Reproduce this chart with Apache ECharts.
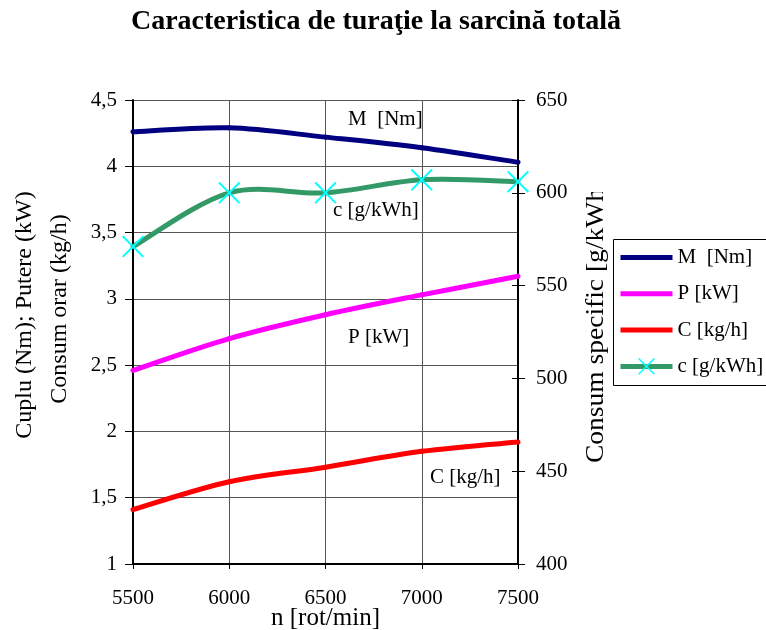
<!DOCTYPE html>
<html>
<head>
<meta charset="utf-8">
<script src="https://cdn.jsdelivr.net/npm/echarts@6/dist/echarts.min.js"></script>
<style>
  html, body { margin: 0; padding: 0; background: #fff; }
  #chart { width: 766px; height: 630px; }
</style>
</head>
<body>
<div id="chart"></div>
<script>
// Engine speed characteristic at full load
const turatie = [5500, 6000, 6500, 7000, 7500];          // n [rot/min]
const cuplu = [4.26, 4.29, 4.22, 4.14, 4.03];              // M [Nm]
const putere = [2.46, 2.70, 2.88, 3.03, 3.17];             // P [kW]
const consumOrar = [1.41, 1.62, 1.73, 1.85, 1.92];         // C [kg/h]
const consumSpecific = [571, 600, 600, 607, 606];          // c [g/kWh]

const numeSerii = ['M  [Nm]', 'P [kW]', 'C [kg/h]', 'c [g/kWh]'];
const culori = ['#000080', '#ff00ff', '#ff0000', '#339966'];
const axaStanga = { min: 1, max: 4.5, interval: 0.5 };
const axaDreapta = { min: 400, max: 650, interval: 50 };
const axaX = { min: 5500, max: 7500, interval: 500 };

const FONT = '"Liberation Serif", "Times New Roman", serif';
const X_MARK = 'path://M0,1.5L1.5,0L12,10.5L22.5,0L24,1.5L13.5,12L24,22.5L22.5,24L12,13.5L1.5,24L0,22.5L10.5,12Z';

const puncte = ys => turatie.map((x, i) => [x, ys[i]]);
const cuVirgula = v => String(v).replace('.', ',');

const chart = echarts.init(document.getElementById('chart'), null, { renderer: 'canvas' });

const textAxa = { fontFamily: FONT, fontSize: 21, color: '#000' };
const textNume = { fontFamily: FONT, fontSize: 25, color: '#000' };

// Carries legend entry and point markers; the visible curve is drawn by curba()
function linie(name, valori, color, yAxisIndex, extra) {
  return Object.assign({
    name: name,
    type: 'line',
    data: puncte(valori),
    yAxisIndex: yAxisIndex,
    symbol: 'none',
    lineStyle: { color: color, width: 5, opacity: 0 },
    itemStyle: { color: color },
    emphasis: { disabled: true },
    z: 4
  }, extra || {});
}

// Smoothed curve (cubic Bezier, Catmull-Rom tangents) through the data points
function curba(valori, color, yAxisIndex) {
  const n = valori.length;
  return {
    type: 'custom',
    name: 'curba-' + color,
    yAxisIndex: yAxisIndex,
    data: puncte(valori),
    silent: true,
    z: 3,
    renderItem: function (params, api) {
      const i = params.dataIndex;
      if (i >= n - 1) return null;
      const p = k => {
        const j = Math.max(0, Math.min(n - 1, k));
        return api.coord([turatie[j], valori[j]]);
      };
      const p0 = p(i - 1), p1 = p(i), p2 = p(i + 1), p3 = p(i + 2);
      return {
        type: 'bezierCurve',
        shape: {
          x1: p1[0], y1: p1[1], x2: p2[0], y2: p2[1],
          cpx1: p1[0] + (p2[0] - p0[0]) / 6, cpy1: p1[1] + (p2[1] - p0[1]) / 6,
          cpx2: p2[0] - (p3[0] - p1[0]) / 6, cpy2: p2[1] - (p3[1] - p1[1]) / 6
        },
        style: { stroke: color, lineWidth: 5, fill: null, lineCap: 'round' }
      };
    }
  };
}

function eticheta(text, x, y) {
  return {
    type: 'text', x: x, y: y, silent: true, z: 10,
    style: { text: text, font: '21px ' + FONT, fill: '#000', textAlign: 'left', textVerticalAlign: 'middle' }
  };
}

chart.setOption({
  animation: false,
  backgroundColor: '#fff',
  grid: { left: 133, right: 248, top: 100, bottom: 66, containLabel: false, outerBoundsMode: 'none' },
  xAxis: {
    type: 'value',
    min: axaX.min, max: axaX.max, interval: axaX.interval,
    name: 'n [rot/min]',
    nameLocation: 'middle',
    nameGap: 42,
    nameMoveOverlap: false,
    nameTextStyle: textNume,
    axisLine: { show: true, onZero: false, lineStyle: { color: '#000', width: 2 } },
    axisTick: { show: true, inside: false, length: 5, lineStyle: { color: '#000' } },
    axisLabel: Object.assign({ margin: 24, formatter: v => String(v) }, textAxa),
    splitLine: { show: true, lineStyle: { color: '#555', width: 1 } }
  },
  yAxis: [
    {
      type: 'value',
      position: 'left',
      min: axaStanga.min, max: axaStanga.max, interval: axaStanga.interval,
      axisLine: { show: true, onZero: false, lineStyle: { color: '#000', width: 2 } },
      axisTick: { show: true, inside: false, length: 8, lineStyle: { color: '#000' } },
      axisLabel: Object.assign({ margin: 16, formatter: cuVirgula }, textAxa),
      splitLine: { show: true, lineStyle: { color: '#555', width: 1 } }
    },
    {
      type: 'value',
      position: 'right',
      min: axaDreapta.min, max: axaDreapta.max, interval: axaDreapta.interval,
      axisLine: { show: true, onZero: false, lineStyle: { color: '#000', width: 2 } },
      axisTick: { show: true, inside: false, length: 7, lineStyle: { color: '#000' } },
      axisLabel: Object.assign({ margin: 18 }, textAxa),
      splitLine: { show: false }
    },
    {
      // inner half of the crossing ticks on the right axis
      type: 'value',
      position: 'right',
      min: axaDreapta.min, max: axaDreapta.max, interval: axaDreapta.interval,
      axisLine: { show: false },
      axisTick: { show: true, inside: true, length: 6, lineStyle: { color: '#000' } },
      axisLabel: { show: false },
      splitLine: { show: false }
    }
  ],
  legend: {
    orient: 'vertical',
    left: 610,
    top: 239,
    padding: [8, 4, 9, 8],
    itemWidth: 52,
    itemHeight: 21,
    itemGap: 15.3,
    borderWidth: 0,
    backgroundColor: 'transparent',
    selectedMode: false,
    z: 8,
    textStyle: Object.assign({ lineHeight: 21 }, textAxa),
    data: numeSerii.map((name, i) => ({
      name: name,
      itemStyle: i < 3 ? { opacity: 0 } : { color: '#00ffff' },
      lineStyle: { color: culori[i], width: 5, opacity: 1 }
    }))
  },
  series: [
    curba(cuplu, culori[0], 0),
    curba(putere, culori[1], 0),
    curba(consumOrar, culori[2], 0),
    curba(consumSpecific, culori[3], 1),
    linie(numeSerii[0], cuplu, culori[0], 0),
    linie(numeSerii[1], putere, culori[1], 0),
    linie(numeSerii[2], consumOrar, culori[2], 0),
    linie(numeSerii[3], consumSpecific, culori[3], 1, {
      symbol: X_MARK,
      symbolSize: 22,
      showSymbol: true,
      showAllSymbol: true,
      itemStyle: { color: '#00ffff' }
    })
  ],
  graphic: [
    {
      type: 'text', x: 376, y: 21.5, silent: true,
      style: {
        text: 'Caracteristica de turaţie la sarcină totală',
        font: 'bold 28px ' + FONT, fill: '#000',
        textAlign: 'center', textVerticalAlign: 'middle'
      }
    },
    // left axis title, two lines
    {
      type: 'text', x: 25, y: 315, rotation: Math.PI / 2, silent: true,
      style: { text: 'Cuplu (Nm); Putere (kW)', font: '24px ' + FONT, fill: '#000', textAlign: 'center', textVerticalAlign: 'middle' }
    },
    {
      type: 'text', x: 60, y: 309, rotation: Math.PI / 2, silent: true,
      style: { text: 'Consum orar (kg/h)', font: '24px ' + FONT, fill: '#000', textAlign: 'center', textVerticalAlign: 'middle' }
    },
    // right axis title, its end runs out of the title frame
    {
      type: 'text', x: 596, y: 463, rotation: Math.PI / 2, scaleX: 1.1, silent: true, z: 5,
      style: { text: 'Consum specific [g/kWh]', font: '25px ' + FONT, fill: '#000', textAlign: 'left', textVerticalAlign: 'middle' }
    },
    {
      type: 'rect', silent: true, z: 6,
      shape: { x: 578, y: 140, width: 34, height: 52 },
      style: { fill: '#fff' }
    },
    // legend frame, running past the right edge of the canvas
    {
      type: 'rect', silent: true, z: 1,
      shape: { x: 613.5, y: 239.5, width: 200, height: 146 },
      style: { fill: '#fff', stroke: '#000', lineWidth: 1 }
    },
    eticheta('M  [Nm]', 348, 119),
    eticheta('c [g/kWh]', 333, 210),
    eticheta('P [kW]', 348, 337),
    eticheta('C [kg/h]', 430, 477)
  ]
});
</script>
</body>
</html>
